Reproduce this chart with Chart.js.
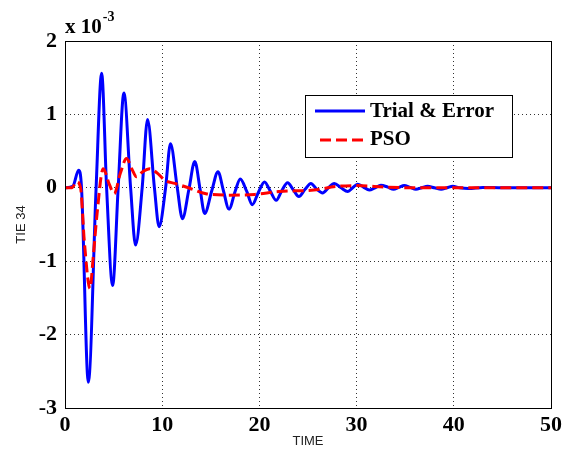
<!DOCTYPE html>
<html>
<head>
<meta charset="utf-8">
<script src="https://cdn.jsdelivr.net/npm/chart.js@4.4.0/dist/chart.umd.min.js"></script>
<style>
  html, body { margin: 0; padding: 0; background: #fff; }
</style>
</head>
<body>
<canvas id="tieChart" width="563" height="458"></canvas>
<script>
// values are in units of 1e-3 (axis shows "x 10^-3")
const trialTime = [0, 0.8, 1.4, 1.7, 2.4, 3.2, 3.77, 4.28, 4.9, 5.47, 6.06, 6.75, 7.26, 7.94, 8.49, 9.2,
  9.68, 10.35, 10.85, 11.55, 12.08, 12.75, 13.35, 13.9, 14.37, 15.1, 15.74, 16.3, 16.87, 17.5, 18.03,
  18.7, 19.27, 19.9, 20.53, 21.1, 21.73, 22.3, 22.9, 23.5, 24.06, 24.7, 25.3, 25.9, 26.5, 27.1, 27.7,
  28.4, 29.1, 29.6, 30.1, 30.7, 31.3, 31.9, 32.5, 33.2, 33.8, 34.35, 34.9, 35.5, 36.1, 36.7, 37.3,
  38.0, 38.7, 39.3, 39.9, 40.6, 41.5, 43, 45, 50];
const trialValues = [0, 0.02, 0.24, 0, -2.65, 0, 1.56, 0, -1.33, 0, 1.29, 0, -0.78, 0, 0.93, 0,
  -0.53, 0, 0.6, 0, -0.42, -0.02, 0.36, -0.02, -0.35, -0.04, 0.22, -0.04, -0.29, -0.05, 0.12,
  -0.05, -0.23, -0.06, 0.08, -0.04, -0.17, -0.04, 0.07, -0.03, -0.12, -0.02, 0.06, -0.02, -0.07, 0, 0.06,
  0, -0.05, 0, 0.05, 0.01, -0.03, 0, 0.035, 0.01, -0.02, 0.005, 0.03, 0.005, -0.02, 0, 0.02,
  0, -0.02, 0, 0.02, 0, -0.01, 0.005, 0, 0];

const psoTime = [0, 0.7, 1.2, 1.6, 2.0, 2.57, 2.9, 3.3, 3.93, 4.55, 5.06, 5.7, 6.33, 6.9, 7.36, 8.0,
  8.73, 9.5, 10.3, 11.3, 12.7, 14.5, 17, 19.5, 22, 25.6, 28, 30, 33, 36, 50];
const psoValues = [0, 0, 0.08, 0, -0.75, -1.37, -0.95, -0.35, 0.26, 0.05, -0.08, 0.2, 0.4, 0.25, 0.15, 0.22,
  0.26, 0.2, 0.1, 0.06, 0, -0.08, -0.1, -0.09, -0.05, -0.03, 0.02, 0.03, 0.01, 0, 0];

const xTicks = [0, 10, 20, 30, 40, 50];
const yTicks = [-3, -2, -1, 0, 1, 2];

const serifBold = '"Liberation Serif", "Times New Roman", serif';

const toPoints = (xs, ys) => xs.map((x, i) => ({ x: x, y: ys[i] }));

// box around the axes, the exponent label and the legend (drawn like matlab does)
const matlabBits = {
  id: 'matlabBits',
  afterDraw(chart) {
    const ctx = chart.ctx;
    const a = chart.chartArea;
    ctx.save();
    ctx.strokeStyle = '#000';
    ctx.lineWidth = 1;
    ctx.setLineDash([]);
    ctx.strokeRect(Math.round(a.left) + 0.5, Math.round(a.top) + 0.5,
      Math.round(a.right - a.left), Math.round(a.bottom - a.top));

    // x 10^-3
    ctx.fillStyle = '#000';
    ctx.textBaseline = 'alphabetic';
    ctx.font = 'bold 21px ' + serifBold;
    ctx.fillText('x 10', a.left, 33);
    const w = ctx.measureText('x 10').width;
    ctx.font = 'bold 14px ' + serifBold;
    ctx.fillText('-3', a.left + w + 1, 21);

    // legend
    const lx = 305, ly = 95, lw = 207, lh = 62;
    ctx.fillStyle = '#fff';
    ctx.fillRect(lx, ly, lw, lh);
    ctx.strokeStyle = '#000';
    ctx.strokeRect(lx + 0.5, ly + 0.5, lw, lh);

    ctx.lineWidth = 3;
    ctx.strokeStyle = '#0000ff';
    ctx.beginPath(); ctx.moveTo(315, 111); ctx.lineTo(365, 111); ctx.stroke();
    ctx.strokeStyle = '#ff0000';
    ctx.setLineDash([11, 5]);
    ctx.beginPath(); ctx.moveTo(320, 140); ctx.lineTo(366, 140); ctx.stroke();
    ctx.setLineDash([]);

    ctx.fillStyle = '#000';
    ctx.font = 'bold 21px ' + serifBold;
    ctx.textBaseline = 'middle';
    ctx.fillText('Trial & Error', 370, 112);
    ctx.fillText('PSO', 370, 140);
    ctx.restore();
  }
};

new Chart(document.getElementById('tieChart'), {
  type: 'line',
  data: {
    datasets: [{
      label: 'Trial & Error',
      data: toPoints(trialTime, trialValues),
      borderColor: '#0000ff',
      borderWidth: 3,
      pointRadius: 0,
      cubicInterpolationMode: 'monotone',
      order: 1
    }, {
      label: 'PSO',
      data: toPoints(psoTime, psoValues),
      borderColor: '#ff0000',
      borderWidth: 3,
      borderDash: [11, 5],
      pointRadius: 0,
      cubicInterpolationMode: 'monotone',
      order: 0
    }]
  },
  options: {
    responsive: false,
    animation: false,
    layout: { padding: { top: 41, right: 12, bottom: 0, left: 0 } },
    plugins: { legend: { display: false }, tooltip: { enabled: false } },
    scales: {
      x: {
        type: 'linear',
        min: 0,
        max: 50,
        afterBuildTicks: (s) => { s.ticks = xTicks.map(v => ({ value: v })); },
        afterFit: (s) => { s.height = 50; s.paddingLeft = 0; s.paddingRight = 0; },
        ticks: { color: '#000', padding: 4, font: { family: serifBold, size: 22, weight: 'bold' } },
        grid: { color: '#333', lineWidth: 1, drawTicks: false },
        border: { display: true, color: '#000', dash: [1, 3] },
        title: { display: true, text: 'TIME', color: '#222', padding: { top: 0, bottom: 9 },
          font: { family: '"Liberation Sans", Arial, sans-serif', size: 13 } }
      },
      y: {
        min: -3,
        max: 2,
        afterBuildTicks: (s) => { s.ticks = yTicks.map(v => ({ value: v })); },
        afterFit: (s) => { s.width = 65; s.paddingTop = 0; s.paddingBottom = 0; },
        ticks: { color: '#000', padding: 8, font: { family: serifBold, size: 22, weight: 'bold' } },
        grid: { color: '#333', lineWidth: 1, drawTicks: false },
        border: { display: true, color: '#000', dash: [1, 3] },
        title: { display: true, text: 'TIE 34', color: '#222', padding: { top: 14, bottom: 0 },
          font: { family: '"Liberation Sans", Arial, sans-serif', size: 13 } }
      }
    }
  },
  plugins: [matlabBits]
});
</script>
</body>
</html>
